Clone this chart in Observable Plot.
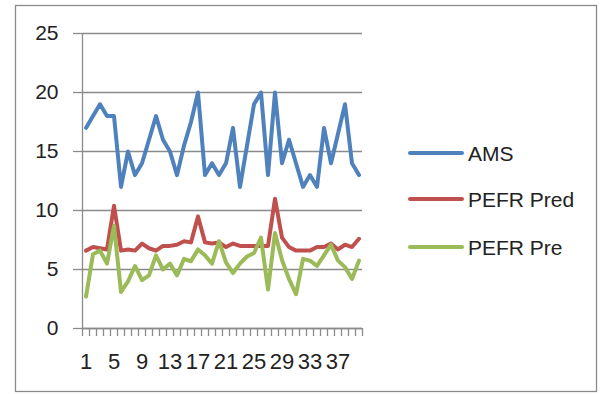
<!DOCTYPE html>
<html>
<head>
<meta charset="utf-8">
<script src="https://cdn.jsdelivr.net/npm/d3@7"></script>
<script src="https://cdn.jsdelivr.net/npm/@observablehq/plot@0.6"></script>
<style>
  html, body { margin: 0; padding: 0; background: #fff; }
  #chart { width: 605px; height: 394px; }
</style>
</head>
<body>
<div id="chart"></div>
<script>
// Observation number (category axis)
const points = [1, 2, 3, 4, 5, 6, 7, 8, 9, 10, 11, 12, 13, 14, 15, 16, 17, 18, 19, 20,
                21, 22, 23, 24, 25, 26, 27, 28, 29, 30, 31, 32, 33, 34, 35, 36, 37, 38, 39, 40];

// Series values
const ams = [17, 18, 19, 18, 18, 12, 15, 13, 14, 16, 18, 16, 15, 13, 15.5, 17.5, 20, 13, 14, 13,
             14, 17, 12, 15.5, 19, 20, 13, 20, 14, 16, 14, 12, 13, 12, 17, 14, 16.5, 19, 14, 13];
const pefrPred = [6.6, 6.9, 6.8, 6.7, 10.4, 6.6, 6.7, 6.6, 7.2, 6.8, 6.6, 7.0, 7.0, 7.1, 7.4, 7.3, 9.5, 7.3, 7.2, 7.3,
                  6.9, 7.2, 7.0, 7.0, 7.0, 7.0, 7.0, 11.0, 7.7, 6.9, 6.6, 6.6, 6.6, 6.9, 6.9, 7.2, 6.7, 7.1, 6.9, 7.6];
const pefrPre = [2.7, 6.3, 6.6, 5.5, 8.7, 3.1, 4.0, 5.3, 4.1, 4.5, 6.2, 5.0, 5.5, 4.5, 5.9, 5.7, 6.7, 6.2, 5.5, 7.4,
                 5.6, 4.7, 5.5, 6.1, 6.4, 7.7, 3.3, 8.1, 5.8, 4.2, 2.9, 5.9, 5.75, 5.3, 6.2, 7.1, 5.75, 5.2, 4.2, 5.75];

const seriesNames = ["AMS", "PEFR Pred", "PEFR Pre"];
const seriesColors = ["#4F81BD", "#C0504D", "#9BBB59"];

// Axis ticks
const yTicks = [0, 5, 10, 15, 20, 25];
const xTickLabels = [1, 5, 9, 13, 17, 21, 25, 29, 33, 37];

// Long-format table for the line mark
const rows = [];
[ams, pefrPred, pefrPre].forEach((vals, k) => {
  vals.forEach((v, i) => rows.push({ point: points[i], value: v, series: seriesNames[k] }));
});

// Category boundaries carry the small tick marks under the axis
const boundaries = points.map(p => p - 0.5).concat([points[points.length - 1] + 0.5]);

const gridColor = "#8a8a8a";
const font = "'Liberation Sans', Arial, sans-serif";

const chart = Plot.plot({
  width: 605,
  height: 394,
  marginLeft: 82,
  marginRight: 243,
  marginTop: 33,
  marginBottom: 66,
  style: { fontFamily: font, fontSize: "21px", color: "#222", background: "#fff", overflow: "visible" },
  x: { domain: [0.5, 40.5], axis: null },
  y: { domain: [0, 25], axis: null },
  color: { domain: seriesNames, range: seriesColors },
  marks: [
    Plot.gridY(yTicks, { stroke: gridColor, strokeOpacity: 1, strokeWidth: 1.3 }),
    Plot.axisY(yTicks, { tickSize: 9, tickPadding: 15, stroke: gridColor, strokeWidth: 1.3, label: null, tickFormat: d => d }),
    Plot.axisX(boundaries, { tickSize: 8, tickFormat: () => "", stroke: gridColor, strokeWidth: 1.3, label: null }),
    Plot.axisX(xTickLabels, { tickSize: 0, tickPadding: 25, label: null, tickFormat: d => d, fontSize: 22 }),
    Plot.ruleX([0.5], { stroke: gridColor, strokeWidth: 1.3 }),
    Plot.ruleY([0], { stroke: gridColor, strokeWidth: 1.3 }),
    Plot.line(rows, {
      x: "point", y: "value", z: "series", stroke: "series",
      strokeWidth: 4, strokeLinejoin: "round", strokeLinecap: "round"
    })
  ]
});

const svg = d3.select(chart);

// Outer chart border
svg.insert("rect", ":first-child")
  .attr("x", 15.5).attr("y", 5.5)
  .attr("width", 581).attr("height", 386)
  .attr("fill", "#fff").attr("stroke", gridColor).attr("stroke-width", 1.3);

// Legend on the right
const legendY = [153, 199, 247];
const legend = svg.append("g")
  .attr("font-family", font).attr("font-size", 21).attr("fill", "#222")
  .attr("text-anchor", "start");
seriesNames.forEach((name, k) => {
  legend.append("line")
    .attr("x1", 410).attr("x2", 462)
    .attr("y1", legendY[k]).attr("y2", legendY[k])
    .attr("stroke", seriesColors[k]).attr("stroke-width", 4).attr("stroke-linecap", "round");
  legend.append("text")
    .attr("x", 468).attr("y", legendY[k])
    .attr("dy", "0.36em")
    .attr("text-anchor", "start")
    .text(name);
});

document.getElementById("chart").appendChild(chart);
</script>
</body>
</html>
